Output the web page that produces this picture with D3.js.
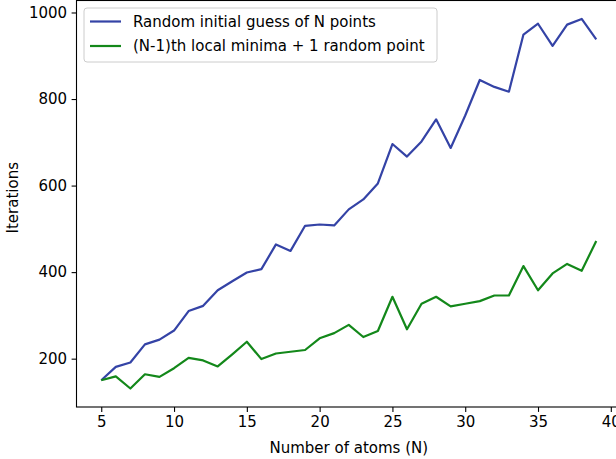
<!DOCTYPE html>
<html>
<head>
<meta charset="utf-8">
<script src="https://cdn.jsdelivr.net/npm/d3@7"></script>
<style>
  body { margin: 0; background: #fff; }
  text { font-family: "DejaVu Sans", sans-serif; }
</style>
</head>
<body>
<div id="chart"></div>
<script>
// data
const atoms = [5, 6, 7, 8, 9, 10, 11, 12, 13, 14, 15, 16, 17, 18, 19, 20, 21, 22,
  23, 24, 25, 26, 27, 28, 29, 30, 31, 32, 33, 34, 35, 36, 37, 38, 39]
const randomGuess = [150, 181, 191, 233, 244, 265, 310, 322, 358, 379, 399, 407, 464, 449,
  507, 510, 508, 545, 568, 605, 696, 667, 702, 753, 687, 762, 844, 828, 817, 949, 974,
  923, 972, 985, 938]
const localMinima = [150, 159, 131, 164, 158, 178, 202, 196, 182, 210, 239, 199, 212, 216,
  220, 247, 259, 278, 250, 264, 343, 268, 327, 343, 321, 327, 333, 346, 346, 414, 358,
  397, 419, 403, 472]
const seriesNames = ['Random initial guess of N points', '(N-1)th local minima + 1 random point']
const seriesColors = ['#3443a6', '#13881a']
const xTicks = [5, 10, 15, 20, 25, 30, 35, 40]
const yTicks = [200, 400, 600, 800, 1000]

const width = 616, height = 459
const margin = {top: 0.5, right: -5, bottom: 52, left: 76.5}
const fs = 15

const svg = d3.select('#chart').append('svg')
  .attr('width', width)
  .attr('height', height)

// matplotlib style 5% padding on both axes
const xr = d3.extent(atoms)
const xpad = (xr[1] - xr[0]) * 0.05
const allY = randomGuess.concat(localMinima)
const yr = d3.extent(allY)
const ypad = (yr[1] - yr[0]) * 0.05

const x = d3.scaleLinear()
  .domain([xr[0] - xpad, xr[1] + xpad])
  .range([margin.left, width - margin.right])
const y = d3.scaleLinear()
  .domain([yr[0] - ypad, yr[1] + ypad])
  .range([height - margin.bottom, margin.top])

// lines
const line = d3.line()
  .x((d, i) => x(atoms[i]))
  .y(d => y(d))

const series = [randomGuess, localMinima]
series.forEach(function(vals, k) {
  svg.append('path')
    .datum(vals)
    .attr('d', line)
    .attr('fill', 'none')
    .attr('stroke', seriesColors[k])
    .attr('stroke-width', 2.2)
    .attr('stroke-linejoin', 'round')
})

// axes
const xAxis = svg.append('g')
  .attr('transform', `translate(0,${height - margin.bottom})`)
  .call(d3.axisBottom(x).tickValues(xTicks).tickFormat(d3.format('d')).tickSize(4.9).tickPadding(4.5))
const yAxis = svg.append('g')
  .attr('transform', `translate(${margin.left},0)`)
  .call(d3.axisLeft(y).tickValues(yTicks).tickFormat(d3.format('d')).tickSize(4.9).tickPadding(4.5))

;[xAxis, yAxis].forEach(function(ax) {
  ax.select('.domain').remove()
  ax.selectAll('line').attr('stroke', '#000').attr('stroke-width', 1.1)
  ax.selectAll('text')
    .attr('fill', '#000')
    .style('font-family', '"DejaVu Sans", sans-serif')
    .style('font-size', fs + 'px')
})

// frame (spines)
svg.append('rect')
  .attr('x', margin.left)
  .attr('y', margin.top)
  .attr('width', width - margin.right - margin.left)
  .attr('height', height - margin.bottom - margin.top)
  .attr('fill', 'none')
  .attr('stroke', '#000')
  .attr('stroke-width', 1.1)

// axis labels
svg.append('text')
  .attr('x', (margin.left + width - margin.right) / 2)
  .attr('y', 453)
  .attr('text-anchor', 'middle')
  .style('font-size', fs + 'px')
  .text('Number of atoms (N)')

svg.append('text')
  .attr('transform', `translate(18,${(margin.top + height - margin.bottom) / 2 - 6}) rotate(-90)`)
  .attr('text-anchor', 'middle')
  .style('font-size', fs + 'px')
  .text('Iterations')

// legend
const legend = svg.append('g').attr('transform', 'translate(84,8)')
legend.append('rect')
  .attr('width', 353)
  .attr('height', 54)
  .attr('rx', 3)
  .attr('fill', '#fff')
  .attr('fill-opacity', 0.8)
  .attr('stroke', '#cccccc')
  .attr('stroke-width', 1)

seriesNames.forEach(function(name, k) {
  const yy = 13.5 + k * 24.5
  legend.append('line')
    .attr('x1', 6).attr('x2', 37)
    .attr('y1', yy).attr('y2', yy)
    .attr('stroke', seriesColors[k])
    .attr('stroke-width', 2.2)
  legend.append('text')
    .attr('x', 49)
    .attr('y', yy)
    .attr('dy', '0.35em')
    .style('font-size', fs + 'px')
    .text(name)
})
</script>
</body>
</html>
